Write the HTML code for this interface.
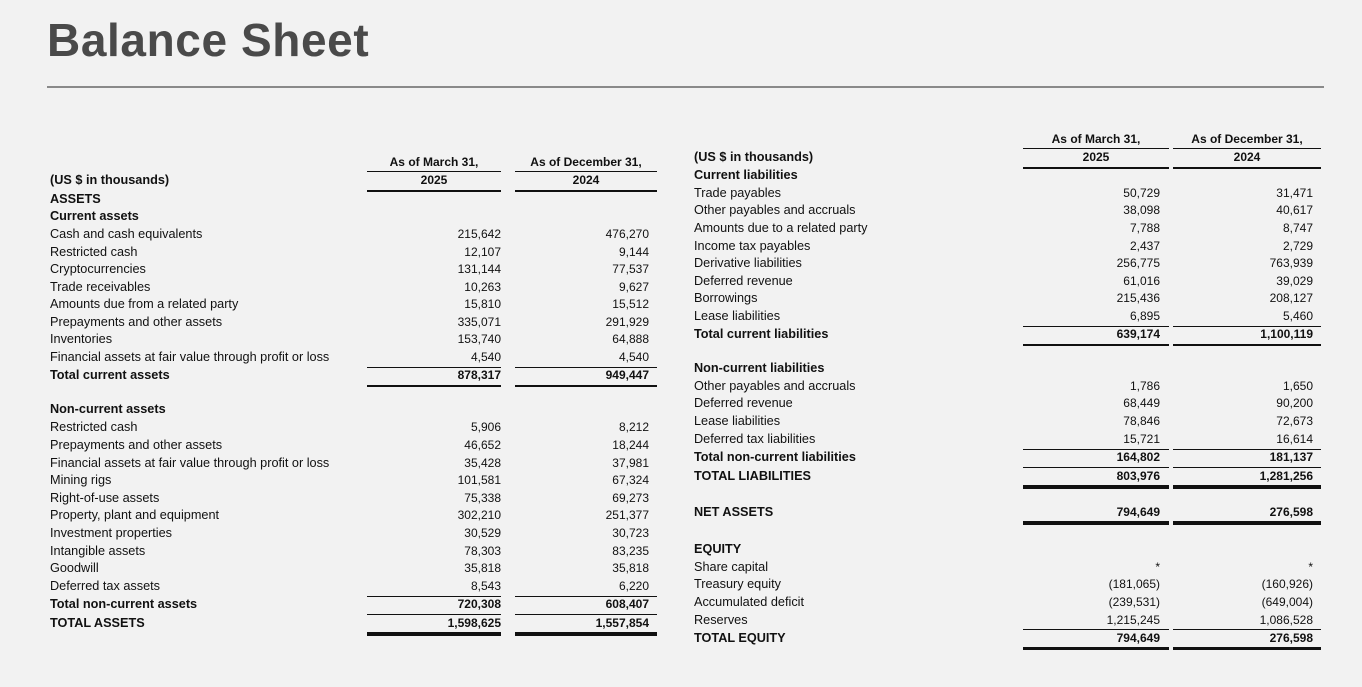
<!DOCTYPE html>
<html><head><meta charset="utf-8"><style>
body{margin:0;width:1362px;height:687px;background:#f2f2f2;position:relative;overflow:hidden;font-family:"Liberation Sans",sans-serif;color:#111}
.t{position:absolute;font-size:12px;line-height:18px;white-space:nowrap}
.lab{font-size:12.7px}
.b{font-weight:bold}
.r{text-align:right}
.c{text-align:center}
.l{position:absolute;background:#111}
h1{position:absolute;left:47px;top:13px;margin:0;font-size:46px;font-weight:bold;color:#4a4a4a;letter-spacing:0.6px}
</style></head><body>
<h1>Balance Sheet</h1>
<div class="l" style="left:47px;top:86px;width:1277px;height:2px;background:#8a8a8a"></div>

<!-- LEFT TABLE -->
<div class="t b c" style="left:367px;width:134px;top:153px">As of March 31,</div>
<div class="t b c" style="left:515px;width:142px;top:153px">As of December 31,</div>
<div class="l" style="left:367px;top:171px;width:134px;height:1px"></div>
<div class="l" style="left:515px;top:171px;width:142px;height:1px"></div>
<div class="t b c" style="left:367px;width:134px;top:171px">2025</div>
<div class="t b c" style="left:515px;width:142px;top:171px">2024</div>
<div class="l" style="left:367px;top:190px;width:134px;height:2px"></div>
<div class="l" style="left:515px;top:190px;width:142px;height:2px"></div>
<div class="t b lab" style="left:50px;top:171px">(US $ in thousands)</div>
<div class="t b lab" style="left:50px;top:190px">ASSETS</div>
<div class="t b lab" style="left:50px;top:207px">Current assets</div>

<div id="L"></div>
<div class="l" style="left:367px;top:367px;width:134px;height:1px"></div>
<div class="l" style="left:515px;top:367px;width:142px;height:1px"></div>
<div class="l" style="left:367px;top:385px;width:134px;height:2px"></div>
<div class="l" style="left:515px;top:385px;width:142px;height:2px"></div>
<div class="t b lab" style="left:50px;top:400px">Non-current assets</div>
<div class="l" style="left:367px;top:596px;width:134px;height:1px"></div>
<div class="l" style="left:515px;top:596px;width:142px;height:1px"></div>
<div class="l" style="left:367px;top:614px;width:134px;height:1px"></div>
<div class="l" style="left:515px;top:614px;width:142px;height:1px"></div>
<div class="l" style="left:367px;top:632px;width:134px;height:4px"></div>
<div class="l" style="left:515px;top:632px;width:142px;height:4px"></div>

<!-- RIGHT TABLE -->
<div class="t b c" style="left:1023px;width:146px;top:130px">As of March 31,</div>
<div class="t b c" style="left:1173px;width:148px;top:130px">As of December 31,</div>
<div class="l" style="left:1023px;top:148px;width:146px;height:1px"></div>
<div class="l" style="left:1173px;top:148px;width:148px;height:1px"></div>
<div class="t b c" style="left:1023px;width:146px;top:148px">2025</div>
<div class="t b c" style="left:1173px;width:148px;top:148px">2024</div>
<div class="l" style="left:1023px;top:167px;width:146px;height:2px"></div>
<div class="l" style="left:1173px;top:167px;width:148px;height:2px"></div>
<div class="t b lab" style="left:694px;top:148px">(US $ in thousands)</div>
<div class="t b lab" style="left:694px;top:166px">Current liabilities</div>
<div class="l" style="left:1023px;top:326px;width:146px;height:1px"></div>
<div class="l" style="left:1173px;top:326px;width:148px;height:1px"></div>
<div class="l" style="left:1023px;top:344px;width:146px;height:2px"></div>
<div class="l" style="left:1173px;top:344px;width:148px;height:2px"></div>
<div class="t b lab" style="left:694px;top:359px">Non-current liabilities</div>
<div class="l" style="left:1023px;top:449px;width:146px;height:1px"></div>
<div class="l" style="left:1173px;top:449px;width:148px;height:1px"></div>
<div class="l" style="left:1023px;top:467px;width:146px;height:1px"></div>
<div class="l" style="left:1173px;top:467px;width:148px;height:1px"></div>
<div class="l" style="left:1023px;top:485px;width:146px;height:4px"></div>
<div class="l" style="left:1173px;top:485px;width:148px;height:4px"></div>
<div class="l" style="left:1023px;top:521px;width:146px;height:4px"></div>
<div class="l" style="left:1173px;top:521px;width:148px;height:4px"></div>
<div class="t b lab" style="left:694px;top:540px">EQUITY</div>
<div class="l" style="left:1023px;top:629px;width:146px;height:1px"></div>
<div class="l" style="left:1173px;top:629px;width:148px;height:1px"></div>
<div class="l" style="left:1023px;top:647px;width:146px;height:3px"></div>
<div class="l" style="left:1173px;top:647px;width:148px;height:3px"></div>

<script>
function rows(data,lx,c1r,c2r){var h='';data.forEach(function(d){var y=d[0]-10,b=d[4]?' b':'';
h+='<div class="t lab'+b+'" style="left:'+lx+'px;top:'+y+'px">'+d[1]+'</div>';
h+='<div class="t r'+b+'" style="right:'+(1362-c1r)+'px;top:'+y+'px">'+d[2]+'</div>';
h+='<div class="t r'+b+'" style="right:'+(1362-c2r)+'px;top:'+y+'px">'+d[3]+'</div>';});return h;}
var L=[[235,'Cash and cash equivalents','215,642','476,270'],[253,'Restricted cash','12,107','9,144'],[270,'Cryptocurrencies','131,144','77,537'],[288,'Trade receivables','10,263','9,627'],[305,'Amounts due from a related party','15,810','15,512'],[323,'Prepayments and other assets','335,071','291,929'],[340,'Inventories','153,740','64,888'],[358,'Financial assets at fair value through profit or loss','4,540','4,540'],[376,'Total current assets','878,317','949,447',1],
[428,'Restricted cash','5,906','8,212'],[446,'Prepayments and other assets','46,652','18,244'],[464,'Financial assets at fair value through profit or loss','35,428','37,981'],[481,'Mining rigs','101,581','67,324'],[499,'Right-of-use assets','75,338','69,273'],[516,'Property, plant and equipment','302,210','251,377'],[534,'Investment properties','30,529','30,723'],[552,'Intangible assets','78,303','83,235'],[569,'Goodwill','35,818','35,818'],[587,'Deferred tax assets','8,543','6,220'],[605,'Total non-current assets','720,308','608,407',1],[624,'TOTAL ASSETS','1,598,625','1,557,854',1]];
var R=[[194,'Trade payables','50,729','31,471'],[211,'Other payables and accruals','38,098','40,617'],[229,'Amounts due to a related party','7,788','8,747'],[247,'Income tax payables','2,437','2,729'],[264,'Derivative liabilities','256,775','763,939'],[282,'Deferred revenue','61,016','39,029'],[299,'Borrowings','215,436','208,127'],[317,'Lease liabilities','6,895','5,460'],[335,'Total current liabilities','639,174','1,100,119',1],
[387,'Other payables and accruals','1,786','1,650'],[404,'Deferred revenue','68,449','90,200'],[422,'Lease liabilities','78,846','72,673'],[440,'Deferred tax liabilities','15,721','16,614'],[458,'Total non-current liabilities','164,802','181,137',1],[477,'TOTAL LIABILITIES','803,976','1,281,256',1],
[513,'NET ASSETS','794,649','276,598',1],
[568,'Share capital','*','*'],[585,'Treasury equity','(181,065)','(160,926)'],[603,'Accumulated deficit','(239,531)','(649,004)'],[621,'Reserves','1,215,245','1,086,528'],[639,'TOTAL EQUITY','794,649','276,598',1]];
document.getElementById('L').outerHTML=rows(L,50,501,649)+rows(R,694,1160,1313);
</script>
</body></html>
